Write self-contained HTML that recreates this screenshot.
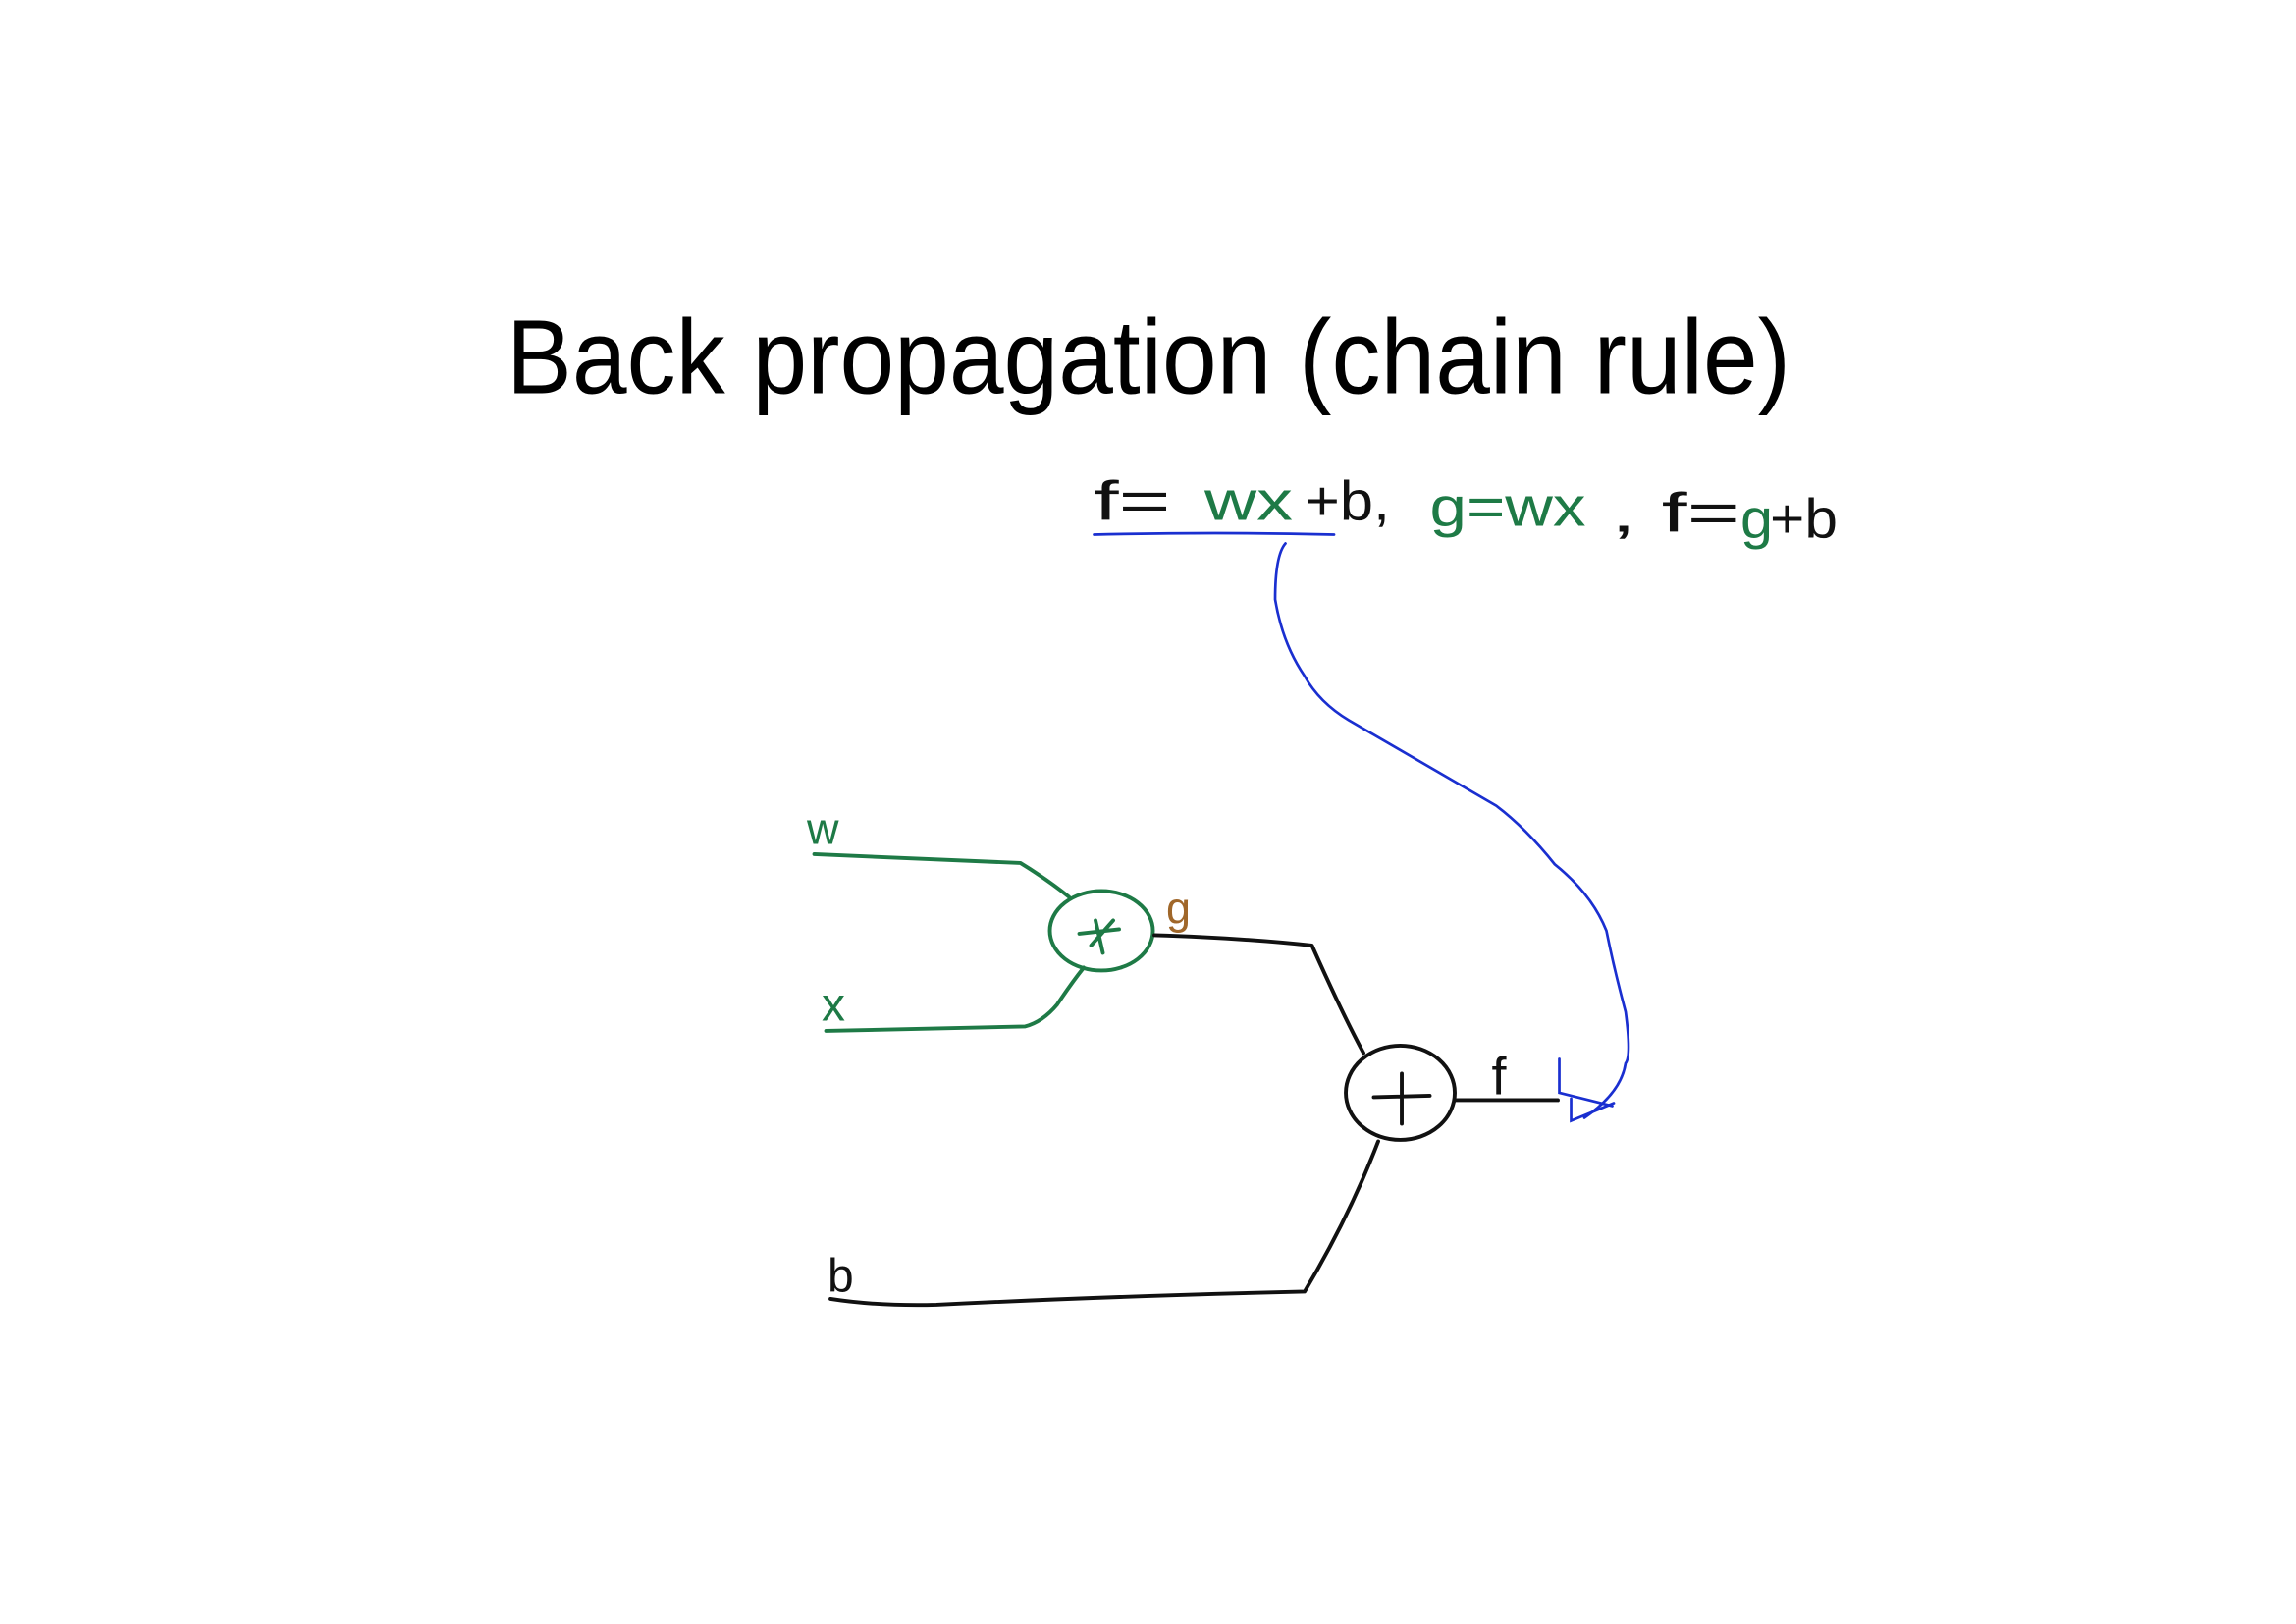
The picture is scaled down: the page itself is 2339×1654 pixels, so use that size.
<!DOCTYPE html>
<html><head><meta charset="utf-8"><style>
html,body{margin:0;padding:0;background:#fff;}
svg{display:block;}
</style></head><body>
<svg width="2339" height="1654" viewBox="0 0 1559.3 1102.7" xmlns="http://www.w3.org/2000/svg">
<rect width="1560" height="1103" fill="#fff"/>
<g transform="translate(-4,-3)">
<text x="348" y="270" font-family="Liberation Sans, sans-serif" font-size="72" textLength="872" lengthAdjust="spacingAndGlyphs" fill="#000">Back propagation (chain rule)</text>
<g font-family="Liberation Sans, sans-serif" font-size="38">
<text x="747" y="356" fill="#111" textLength="52" lengthAdjust="spacingAndGlyphs">f=</text>
<text x="822" y="356" fill="#1e7a46" textLength="60" lengthAdjust="spacingAndGlyphs">wx</text>
<text x="890" y="356" fill="#111" textLength="58" lengthAdjust="spacingAndGlyphs">+b,</text>
<text x="975" y="360" fill="#1e7a46" textLength="106" lengthAdjust="spacingAndGlyphs">g=wx</text>
<text x="1098" y="364" fill="#111" textLength="88" lengthAdjust="spacingAndGlyphs">, f=</text>
<text x="1186" y="368" fill="#1e7a46" textLength="22" lengthAdjust="spacingAndGlyphs">g</text>
<text x="1206" y="368" fill="#111" textLength="46" lengthAdjust="spacingAndGlyphs">+b</text>
</g>
<g fill="none" stroke="#1a2fd0" stroke-width="1.8" stroke-linecap="round">
<path d="M747 366 Q830 364 910 366"/>
<path d="M877 372 Q870 380 870 410 Q875 440 890 462 Q900 480 920 492 L1020 550 Q1040 565 1060 590 Q1085 610 1095 635 Q1100 660 1108 690 Q1112 720 1108 725 Q1105 745 1080 762"/>
<path d="M1063 722 L1063 745 L1099 754"/>
<path d="M1071 749 L1071 764 L1100 752"/>
</g>
<g fill="none" stroke="#1e7a46" stroke-width="2.6" stroke-linecap="round" stroke-linejoin="round">
<path d="M557 583 L697 589 Q715 600 730 612"/>
<ellipse cx="752" cy="635" rx="35" ry="27"/>
<path d="M737 637 L764 634 M748 628 L753 650 M760 628 L745 645"/>
<path d="M565 703 L700 700 Q712 697 722 685 Q732 670 740 660"/>
</g>
<g font-family="Liberation Sans, sans-serif">
<text x="552" y="576" font-size="30" fill="#1e7a46">w</text>
<text x="562" y="696" font-size="32" fill="#1e7a46">x</text>
<text x="796" y="630" font-size="30" fill="#a0672a">g</text>
<text x="1017" y="746" font-size="36" fill="#111">f</text>
<text x="566" y="880" font-size="32" fill="#111">b</text>
</g>
<g fill="none" stroke="#111" stroke-width="2.6" stroke-linecap="round" stroke-linejoin="round">
<path d="M788 638 Q850 640 895 645 Q915 690 930 718"/>
<ellipse cx="955" cy="745" rx="37" ry="32"/>
<path d="M937 748 L975 747 M956 732 L956 766"/>
<path d="M993 750 L1062 750"/>
<path d="M568 885 Q600 890 640 889 Q760 883 890 880 Q920 830 940 778"/>
</g>
</g>
</svg>
</body></html>
